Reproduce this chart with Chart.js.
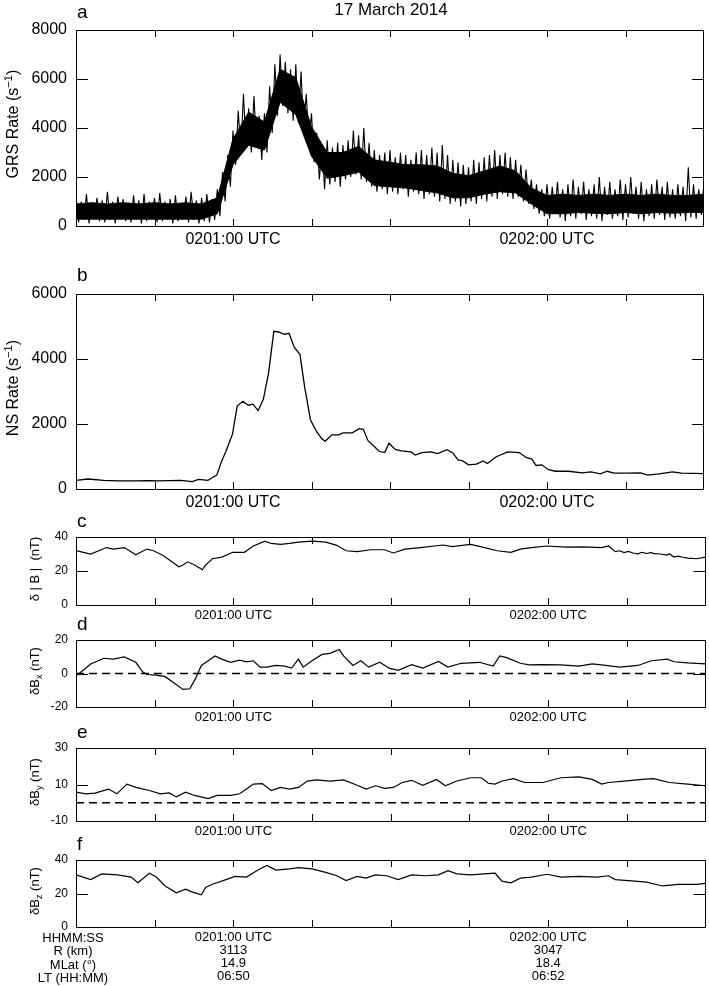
<!DOCTYPE html>
<html>
<head>
<meta charset="utf-8">
<script src="https://cdn.jsdelivr.net/npm/chart.js@4.4.1/dist/chart.umd.min.js"></script>
<style>
  body { margin: 0; background: #fff; }
  #page { position: relative; width: 709px; height: 986px; overflow: hidden;
          font-family: "Liberation Sans", Arial, sans-serif; color: #000; }
  canvas { position: absolute; left: 0; }
  .txt { position: absolute; white-space: nowrap; line-height: 1; }
  .letter { font-size: 19px; left: 77px; }
  .ytitle { position: absolute; white-space: nowrap; line-height: 1;
            transform: translate(-50%, -50%) rotate(-90deg); }
  .ytitle sub, .ytitle sup { font-size: 70%; line-height: 0; }
  #rows { position: absolute; left: 73px; top: 931px; transform: translateX(-50%);
          font-size: 13px; line-height: 13.3px; text-align: center; white-space: nowrap; }
</style>
</head>
<body>
<div id="page">
  <canvas id="pa"></canvas>
  <canvas id="pb"></canvas>
  <canvas id="pc"></canvas>
  <canvas id="pd"></canvas>
  <canvas id="pe"></canvas>
  <canvas id="pf"></canvas>

  <div class="txt" style="left:391px;top:1px;font-size:17px;transform:translateX(-50%)">17 March 2014</div>
  <div class="txt letter" style="top:2px">a</div>
  <div class="txt letter" style="top:265px">b</div>
  <div class="txt letter" style="top:511px">c</div>
  <div class="txt letter" style="top:614px">d</div>
  <div class="txt letter" style="top:722px">e</div>
  <div class="txt letter" style="top:834px">f</div>

  <div class="ytitle" style="left:13px;top:124px;font-size:16px">GRS Rate (s<sup>&minus;1</sup>)</div>
  <div class="ytitle" style="left:13px;top:388px;font-size:16px">NS Rate (s<sup>&minus;1</sup>)</div>
  <div class="ytitle" style="left:34px;top:569px;font-size:13px">&delta; | B |&nbsp; (nT)</div>
  <div class="ytitle" style="left:34px;top:671px;font-size:13px">&delta;B<sub>x</sub> (nT)</div>
  <div class="ytitle" style="left:34px;top:782px;font-size:13px">&delta;B<sub>y</sub> (nT)</div>
  <div class="ytitle" style="left:34px;top:891px;font-size:13px">&delta;B<sub>z</sub> (nT)</div>

  <div id="rows">HHMM:SS<br>R (km)<br>MLat (&deg;)<br>LT (HH:MM)</div>
</div>

<script>
// time axis: seconds after 02:00:00 UTC
const tStart = 30;
const tEnd = 150;
const tStep = 15;
const labelTimes = [60, 120];
const labelText = ['0201:00 UTC', '0202:00 UTC'];
const rText = ['3113', '3047'];
const mlatText = ['14.9', '18.4'];
const ltText = ['06:50', '06:52'];

// panel a: GRS rate, upper and lower swing of the noisy trace, one pair per second from 30 s
const grsHigh = [1200,1000,1300,950,1150,1050,1400,1000,1200,1100,
  950,1250,1050,1300,1000,1150,1350,1000,1100,1250,
  950,1200,1400,1050,1150,1300,1100,1500,2200,2900,
  3900,4700,5400,4800,5300,4500,4600,5700,6600,7000,
  6700,6400,6600,6300,5400,4600,3800,3300,3500,3200,
  3400,3300,3500,3900,3700,4000,3400,3100,2900,3000,
  3100,2800,3000,2900,2700,3000,3100,2900,3200,3000,
  3300,2900,2700,2600,2500,2400,2700,2600,2800,2900,
  3100,2900,3000,2800,2700,2500,2300,1900,1700,1500,
  1700,1600,1800,1500,1700,1900,1600,1800,1500,1700,
  2000,1600,1800,1500,1900,1700,2000,1600,1800,1500,
  1700,1900,1600,1800,1500,1700,1600,2400,1700,1500,
  1800];
const grsLow = [150,250,100,300,200,150,250,100,300,200,
  150,250,100,200,300,150,200,250,100,200,
  300,150,250,100,200,150,250,400,1000,1600,
  2500,3000,3200,3000,3300,2700,3000,3800,4500,4900,
  4600,4300,4200,4000,3400,2600,1900,1500,1700,1800,
  1600,1900,2000,2100,1900,1800,1600,1400,1500,1300,
  1400,1300,1500,1200,1400,1300,1100,1300,1200,1000,
  1100,900,1000,800,900,1000,900,1100,1000,1200,
  1100,1300,1200,1100,1200,1000,900,700,500,400,
  300,500,350,200,400,300,500,250,400,300,
  200,450,300,400,250,350,500,300,200,400,
  300,450,250,350,300,400,200,350,300,450,
  350];
// solid middle of the GRS trace, every 3 s
const coreTime = [30,33,36,39,42,45,48,51,54,57,60,63,66,69,72,75,78,81,84,87,
  90,93,96,99,102,105,108,111,114,117,120,123,126,129,132,135,138,141,144,147,150];
const coreTop = [900,950,900,950,900,950,900,950,900,1150,3550,4650,4250,6400,6050,4050,3000,3000,3250,2700,
  2600,2500,2500,2450,2150,2050,2250,2450,2250,1550,1250,1300,1250,1300,1250,1300,1250,1300,1250,1250,1300];
const coreBottom = [280,280,280,280,280,280,280,280,280,500,2500,3300,3100,5050,4550,2850,1950,2050,2200,1650,
  1600,1550,1450,1350,1150,1150,1300,1400,1350,900,500,500,550,520,500,550,500,550,520,550,550];

// panel b: NS rate
const nsTime = [30,32.3,35.3,37.9,41.4,44,45.7,50,52.2,53.4,55.2,56,56.9,57.8,58.6,59.9,60.8,61.9,62.9,63.8,
  64.8,65.8,66.8,67.8,68.7,69.8,70.7,71.7,72.8,73.7,74.8,75.9,76.9,77.6,78.9,80.2,81,82.8,84.1,84.9,
  85.8,87.1,87.9,89,89.8,91,92.2,94,94.8,96.1,97.8,99.1,100.9,102,103,103.9,105,106.5,107.8,108.6,
  110.3,112.5,114.7,116,117.1,117.9,119,120.3,121.6,124.1,126.7,128.4,130.2,131.5,132.8,135.3,137.9,139.2,141.4,144,
  145.7,150];
const nsRate = [268,307,268,248,248,258,248,268,228,298,268,347,427,843,1141,1687,2550,2698,2579,2609,
  2411,2758,3571,4851,4831,4762,4792,4365,4137,3125,2133,1786,1558,1468,1667,1667,1726,1726,1855,1835,
  1488,1290,1161,1121,1409,1220,1171,1141,1042,1121,1141,1091,1210,1111,893,863,744,764,863,784,
  992,1141,1121,972,923,724,744,595,546,546,496,526,466,546,486,486,496,427,466,526,
  486,476];

// panel c: delta |B|
const cTime = [30,32.8,35.8,37.1,39.2,41.4,43.5,44.8,46.6,48.3,49.6,50.4,51.3,52.6,54.1,54.7,56,57.8,59.9,62.1,
  63.8,66,67.2,69,70.7,72.4,75,77.6,79.7,81.5,83.6,86.2,88.8,90.5,92.7,95.7,100,101.7,105.2,107.3,
  110.3,112.9,114.7,116.8,119.8,123.3,126.7,130.2,131.5,132.8,133.6,134.5,135.3,136.2,137.1,137.9,138.8,139.7,140.1,141.4,
  142.7,143.1,144,144.8,145.7,146.6,148.3,150];
const cVals = [32,30,33.8,32.9,33.8,29.5,32.9,31.9,29.1,25.4,22.5,23.5,25.4,23.5,20.7,23.5,27.2,28.2,31,31,
  34.7,37.6,36.2,35.7,36.2,37,37.6,37,35.1,31.9,31.4,32.5,32.5,30.6,32.9,33.8,35.3,34.4,35.7,34.2,
  31.9,31,32.9,33.8,34.7,34,34.2,33.8,34.7,31.4,31.9,30.8,31.5,30.6,30.1,31,30.3,30.9,30.2,30,
  29.4,30.1,28.2,28.7,28.1,27.6,27.2,28.2];

// panel d: delta Bx
const dTime = [30,31,32.8,35.3,37.1,39.2,41.4,42.7,43.5,45.3,47,48.7,50.4,51.7,52.8,53.9,55.2,56.5,57.8,59.5,
  61.2,62.5,63.8,65.1,66.4,68.1,69.8,71.1,72.4,73.3,75,76.9,78.4,80.2,81,82.8,84.3,85.8,87.9,89.7,
  91.4,94,96.1,99.1,100.9,103.4,106.9,109.5,110.8,112.1,114.7,116.4,119,122.4,125.9,128.4,131,133.6,137.1,139.7,
  142.7,144,146.6,150];
const dVals = [-1.3,1,5.7,9.1,8.6,9.9,6.7,1,-0.6,-1,-1.9,-5.7,-9.5,-9.1,-2.9,4.8,7.6,10.5,8.6,6.7,
  8,7,7.6,3.8,3.8,4.8,4.4,3.2,8.6,3.8,7.6,11.4,12,14.3,10.5,4.8,7.6,3.8,6.7,3.2,
  1.9,5.3,3.2,7.2,3.8,6.1,6.7,4.4,10.5,9.5,6.1,5.1,5.3,5.1,4.4,5.7,4.8,3.8,4.8,7.6,
  8.6,7,6.3,5.7];

// panel e: delta By
const eTime = [30,31.9,33.6,36.2,37.8,39.7,41.4,44,46.1,47.8,49.1,50.9,52.6,55.2,56.9,59.5,61.2,62.5,63.8,65.5,
  67.2,69,70.7,72.4,74.1,75.9,78.4,81,83.6,85.3,87.1,88.8,90.5,92.2,94,96.1,98.7,100.4,102.6,105.2,
  107.3,108.6,109.9,111.2,113.4,115.5,119,122.4,125.9,128.4,130.2,131.5,134.5,137.9,140.1,143.1,146.6,150];
const eVals = [5.8,4.9,5.3,7.5,4.9,10.2,8.4,6.7,4.9,5.4,3.2,5.8,4,2.3,4,4,4.9,7.5,10.2,10.5,
  6.7,8.4,7.5,8.4,11.9,12.5,11.9,12.5,9.6,7.5,9.3,7.9,8.4,11.1,12.3,9.6,12.8,9.3,11.9,13.7,
  13.7,10.7,10.2,11.9,13.2,11.1,11.1,13.7,14.2,12.8,10.2,11.1,11.9,12.8,13.2,11.1,10.2,9.3];

// panel f: delta Bz
const fTime = [30,32.8,34.9,37.9,40.5,41.8,44,45.3,47,49.1,50.9,52.2,53.9,54.7,56,58.6,60.3,62.5,64.7,66.4,
  68.1,70.7,72.4,75,77.6,79.7,81.5,83.6,85.3,87.1,89.2,91.4,94,96.6,99.1,100.9,102.6,105.2,107.8,109.9,
  111.2,112.9,114.7,116.8,119.8,122.4,125.9,129.3,131.5,132.8,135.3,138.8,141.8,144.8,148.3,150];
const fVals = [31.1,28.3,31.7,31.1,29.8,26.4,32.1,29.8,24.5,20.4,22.6,20.8,19.2,23.6,25.5,28.3,30.2,29.8,34,36.8,
  34,34.7,35.5,34.7,32.6,30.6,27.7,30.2,29.2,31.1,30.6,28.3,31.1,30.6,31.1,33.6,31.7,31.1,31.7,32.1,
  27.4,26.4,29.2,29.8,31.5,29.8,30.2,29.8,30.6,28.3,27.7,26.8,24.5,25.5,25.5,26];

// dashed zero reference
const zeroTime = [30, 150];
const zeroVals = [0, 0];

Chart.defaults.font.family = '"Liberation Sans", Arial, sans-serif';
Chart.defaults.color = '#000';

const PAD_TOP = 10;

function pts(xs, ys) {
  return xs.map((x, i) => ({ x: x, y: ys[i] }));
}

// GRS trace: each second swings from its high reading to its low reading
function swing(high, low) {
  const out = [];
  high.forEach((h, i) => {
    out.push({ x: tStart + i, y: h });
    if (i < high.length - 1) out.push({ x: tStart + i + 0.5, y: low[i] });
  });
  return out;
}

// box with inward ticks on all four sides
const framePlugin = {
  id: 'frame',
  afterDatasetsDraw(chart, args, opts) {
    const { ctx, chartArea: a } = chart;
    const x = chart.scales.x;
    const y = chart.scales.y;
    ctx.save();
    ctx.strokeStyle = '#000';
    ctx.lineWidth = 1;
    ctx.strokeRect(Math.round(a.left) + 0.5, Math.round(a.top) + 0.5,
      Math.round(a.right - a.left) - 1, Math.round(a.bottom - a.top));
    ctx.beginPath();
    x.ticks.slice(1, -1).forEach(t => {
      const px = Math.round(x.getPixelForValue(t.value)) + 0.5;
      ctx.moveTo(px, a.bottom); ctx.lineTo(px, a.bottom - opts.xLen);
      ctx.moveTo(px, a.top); ctx.lineTo(px, a.top + opts.xLen);
    });
    y.ticks.slice(1, -1).forEach(t => {
      const py = Math.round(y.getPixelForValue(t.value)) + 0.5;
      ctx.moveTo(a.left, py); ctx.lineTo(a.left + opts.yLen, py);
      ctx.moveTo(a.right, py); ctx.lineTo(a.right - opts.yLen, py);
    });
    ctx.stroke();
    ctx.restore();
  }
};

function timeLabel(v) {
  const i = labelTimes.indexOf(v);
  return i < 0 ? '' : labelText[i];
}

function infoLabel(v) {
  const i = labelTimes.indexOf(v);
  return i < 0 ? '' : [labelText[i], rText[i], mlatText[i], ltText[i]];
}

function makePanel(id, top, boxH, axisH, datasets, yMin, yMax, yStep, big, xCallback) {
  const cv = document.getElementById(id);
  cv.width = 709;
  cv.height = PAD_TOP + boxH + axisH;
  cv.style.top = (top - PAD_TOP) + 'px';
  const xSize = big ? 16 : 13;
  const ySize = big ? 16 : 12;
  new Chart(cv, {
    type: 'line',
    data: { datasets: datasets },
    options: {
      responsive: false,
      animation: false,
      events: [],
      layout: { padding: { top: PAD_TOP, right: 3, left: 0, bottom: 0 } },
      plugins: {
        legend: { display: false },
        tooltip: { enabled: false },
        frame: { xLen: 7, yLen: 12 }
      },
      elements: {
        point: { radius: 0 },
        line: { borderWidth: 1.2, borderColor: '#000', tension: 0, fill: false }
      },
      scales: {
        x: {
          type: 'linear', min: tStart, max: tEnd,
          grid: { display: false, drawTicks: false, tickLength: 0 }, border: { display: false },
          afterFit: s => { s.height = axisH; },
          ticks: {
            stepSize: tStep, autoSkip: false, maxRotation: 0, minRotation: 0,
            padding: big ? 5 : 3.5,
            font: { size: xSize, lineHeight: 1.02 },
            callback: xCallback
          }
        },
        y: {
          type: 'linear', min: yMin, max: yMax,
          grid: { display: false, drawTicks: false, tickLength: 0 }, border: { display: false },
          afterFit: s => { s.width = 76; },
          ticks: {
            stepSize: yStep, padding: big ? 9 : 8,
            font: { size: ySize, lineHeight: 1 },
            callback: v => String(v)
          }
        }
      }
    },
    plugins: [framePlugin]
  });
}

makePanel('pa', 23, 203, 30, [
  { data: pts(coreTime, coreTop), borderWidth: 1, fill: '+1', backgroundColor: '#000' },
  { data: pts(coreTime, coreBottom), borderWidth: 1 },
  { data: swing(grsHigh, grsLow), borderWidth: 1.1, borderJoinStyle: 'bevel' }
], 0, 8000, 2000, true, timeLabel);

makePanel('pb', 287, 202, 30, [
  { data: pts(nsTime, nsRate), borderWidth: 1.3 }
], 0, 6000, 2000, true, timeLabel);

makePanel('pc', 533, 72, 20, [
  { data: pts(cTime, cVals) }
], 0, 40, 20, false, timeLabel);

makePanel('pd', 636, 71, 26, [
  { data: pts(dTime, dVals) },
  { data: pts(zeroTime, zeroVals), borderWidth: 1.3, borderDash: [8, 5] }
], -20, 20, 20, false, timeLabel);

makePanel('pe', 744, 77, 24, [
  { data: pts(eTime, eVals) },
  { data: pts(zeroTime, zeroVals), borderWidth: 1.3, borderDash: [8, 5] }
], -10, 30, 20, false, timeLabel);

makePanel('pf', 856, 71, 58, [
  { data: pts(fTime, fVals) }
], 0, 40, 20, false, infoLabel);
</script>
</body>
</html>
